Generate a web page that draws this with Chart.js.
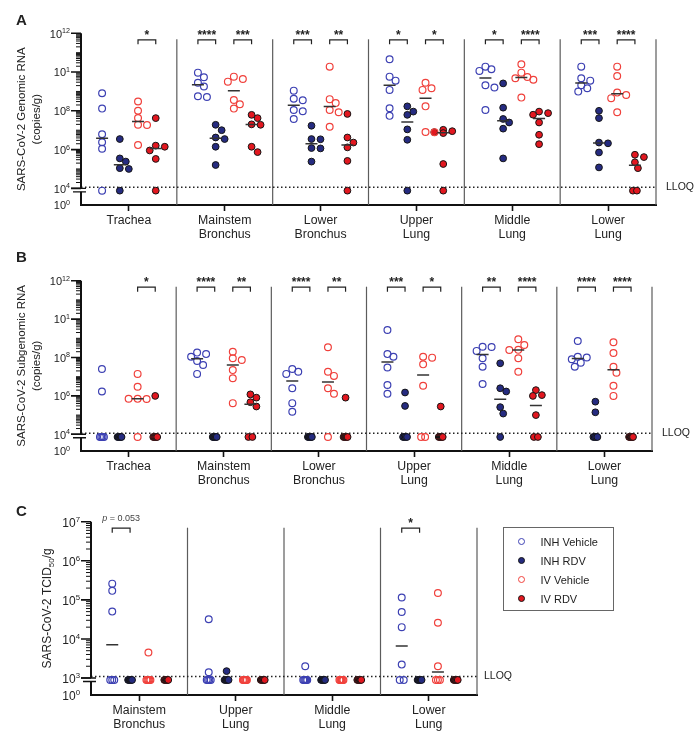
<!DOCTYPE html>
<html>
<head>
<meta charset="utf-8">
<title>SARS-CoV-2 RNA and infectious virus by tissue</title>
<script src="https://cdn.jsdelivr.net/npm/chart.js@4.4.1/dist/chart.umd.min.js"></script>
<style>
  body { margin: 0; background: #fff; font-family: 'Liberation Sans', Arial, sans-serif; color: #222; }
  #page { position: relative; width: 700px; height: 740px; overflow: hidden; }
  canvas { position: absolute; left: 0; }
  .tag { position: absolute; left: 16px; font-weight: bold; font-size: 15px; line-height: 15px; }
  #legend { position: absolute; left: 503px; top: 527px; width: 109px; height: 82px; border: 1.5px solid #666; }
  .item { position: absolute; left: 0; width: 100%; height: 14px; font-size: 11px; line-height: 14px; }
  .dot { position: absolute; left: 14px; top: 3.5px; width: 5px; height: 5px; border-radius: 50%; }
  .lbl { position: absolute; left: 36.5px; top: 0; white-space: nowrap; }
</style>
</head>
<body>
<div id="page">
  <canvas id="chart-a" width="700" height="245" style="top:0px"></canvas>
  <canvas id="chart-b" width="700" height="246" style="top:245px"></canvas>
  <canvas id="chart-c" width="700" height="244" style="top:491px"></canvas>
  <div class="tag" style="top:12px">A</div>
  <div class="tag" style="top:249px">B</div>
  <div class="tag" style="top:503px">C</div>
  <div id="legend"></div>
</div>
<script>
// ---- data (0 = below LLOQ) ----
const seriesNames = ['INH Vehicle', 'INH RDV', 'IV Vehicle', 'IV RDV'];

const tissuesAB = [['Trachea'], ['Mainstem', 'Bronchus'], ['Lower', 'Bronchus'], ['Upper', 'Lung'], ['Middle', 'Lung'], ['Lower', 'Lung']];
const tissuesC = [['Mainstem', 'Bronchus'], ['Upper', 'Lung'], ['Middle', 'Lung'], ['Lower', 'Lung']];

// A: genomic RNA, copies/g
const genomicInhVehicle = [
    [8.1e8, 1.3e8, 6.2e6, 2.4e6, 1.1e6, 0],
    [9.3e9, 5.4e9, 2.8e9, 1.8e9, 5.6e8, 5.2e8],
    [1.1e9, 4.2e8, 3.5e8, 1.1e8, 9.5e7, 3.8e7],
    [4.6e10, 5.8e9, 3.6e9, 1.2e9, 1.35e8, 5.5e7],
    [1.9e10, 1.4e10, 1.15e10, 2.1e9, 1.6e9, 1.1e8],
    [1.9e10, 4.8e9, 3.6e9, 2.1e9, 1.45e9, 9.8e8]
];
const genomicInhRdv = [
    [3.5e6, 3.5e5, 2.4e5, 1.1e5, 1.0e5, 0],
    [1.9e7, 1.0e7, 4.2e6, 3.5e6, 1.4e6, 1.6e5],
    [1.7e7, 3.5e6, 3.4e6, 1.2e6, 1.15e6, 2.4e5],
    [1.7e8, 9.1e7, 6.2e7, 1.1e7, 3.2e6, 0],
    [2.6e9, 1.45e8, 3.8e7, 2.5e7, 1.2e7, 3.5e5],
    [1.0e8, 4.2e7, 2.3e6, 2.1e6, 7.1e5, 1.2e5]
];
const genomicIvVehicle = [
    [3.0e8, 1.0e8, 4.2e7, 1.9e7, 1.85e7, 1.7e6],
    [5.8e9, 4.4e9, 3.2e9, 3.6e8, 2.2e8, 1.3e8],
    [1.9e10, 4.0e8, 2.5e8, 1.1e8, 8.5e7, 1.5e7],
    [2.8e9, 1.45e9, 1.2e9, 1.7e8, 8.0e6, 7.9e6],
    [2.5e10, 9.3e9, 5.6e9, 4.8e9, 4.0e9, 4.8e8],
    [1.9e10, 6.3e9, 8.7e8, 6.6e8, 4.5e8, 8.5e7]
];
const genomicIvRdv = [
    [4.2e7, 1.6e6, 1.4e6, 9.0e5, 3.3e5, 0],
    [6.2e7, 4.2e7, 2.0e7, 1.9e7, 1.4e6, 7.4e5],
    [6.9e7, 4.2e6, 2.3e6, 1.3e6, 2.6e5, 0],
    [1.05e7, 8.9e6, 7.9e6, 7.1e6, 1.8e5, 0],
    [9.1e7, 7.6e7, 6.3e7, 2.5e7, 5.8e6, 1.9e6],
    [5.4e5, 4.1e5, 2.2e5, 1.1e5, 0, 0]
];
const genomicSig = [['', '*'], ['****', '***'], ['***', '**'], ['*', '*'], ['*', '****'], ['***', '****']];

// B: subgenomic RNA, copies/g
const subgenomicInhVehicle = [
    [2.5e7, 1.7e6, 0, 0, 0, 0],
    [1.8e8, 1.5e8, 1.1e8, 6.6e7, 4.1e7, 1.4e7],
    [2.5e7, 1.8e7, 1.4e7, 2.5e6, 4.2e5, 1.5e5],
    [2.7e9, 1.5e8, 1.1e8, 3.0e7, 3.7e6, 1.3e6],
    [3.6e8, 3.5e8, 2.2e8, 9.1e7, 3.3e7, 4.2e6],
    [7.2e8, 1.1e8, 1.0e8, 8.1e7, 5.4e7, 3.3e7]
];
const subgenomicInhRdv = [
    [0, 0, 0, 0, 0, 0],
    [0, 0, 0, 0, 0, 0],
    [0, 0, 0, 0, 0, 0],
    [1.5e6, 3.0e5, 0, 0, 0, 0],
    [5.0e7, 2.5e6, 1.7e6, 2.6e5, 1.2e5, 0],
    [5.0e5, 1.4e5, 0, 0, 0, 0]
];
const subgenomicIvVehicle = [
    [1.4e7, 3.0e6, 7.0e5, 6.9e5, 7.1e5, 0],
    [2.0e8, 9.1e7, 7.4e7, 2.2e7, 8.3e6, 4.2e5],
    [3.4e8, 1.8e7, 1.1e7, 2.5e6, 1.3e6, 0],
    [1.1e8, 9.8e7, 4.4e7, 3.4e6, 0, 0],
    [8.9e8, 4.5e8, 2.5e8, 2.45e8, 9.1e7, 1.8e7],
    [6.2e8, 1.7e8, 3.3e7, 1.6e7, 3.4e6, 1.0e6]
];
const subgenomicIvRdv = [
    [1.0e6, 0, 0, 0, 0, 0],
    [1.2e6, 8.1e5, 4.7e5, 2.8e5, 0, 0],
    [8.1e5, 0, 0, 0, 0, 0],
    [2.8e5, 0, 0, 0, 0, 0],
    [2.0e6, 1.1e6, 1.0e6, 1.0e5, 0, 0],
    [0, 0, 0, 0, 0, 0]
];
const subgenomicSig = [['', '*'], ['****', '**'], ['****', '**'], ['***', '*'], ['**', '****'], ['****', '****']];

// C: TCID50/g
const tcidInhVehicle = [
    [2.6e5, 1.7e5, 5.0e4, 0, 0, 0],
    [3.2e4, 1.4e3, 0, 0, 0, 0],
    [2.0e3, 0, 0, 0, 0, 0],
    [1.15e5, 4.9e4, 2.0e4, 2.2e3, 0, 0]
];
const tcidInhRdv = [
    [0, 0, 0, 0, 0, 0],
    [1.5e3, 0, 0, 0, 0, 0],
    [0, 0, 0, 0, 0, 0],
    [0, 0, 0, 0, 0, 0]
];
const tcidIvVehicle = [
    [4.5e3, 0, 0, 0, 0, 0],
    [0, 0, 0, 0, 0, 0],
    [0, 0, 0, 0, 0, 0],
    [1.5e5, 2.6e4, 2.0e3, 0, 0, 0]
];
const tcidIvRdv = [
    [0, 0, 0, 0, 0, 0],
    [0, 0, 0, 0, 0, 0],
    [0, 0, 0, 0, 0, 0],
    [0, 0, 0, 0, 0, 0]
];
const tcidSig = [['p = 0.053', ''], ['', ''], ['', ''], ['*', '']];

// y tick labels: exponent of the tick, and the superscript shown
const rnaTickExp = [12, 10, 8, 6, 4];
const rnaTickSup = ['12', '1', '8', '6', '4'];
const tcidTickExp = [7, 6, 5, 4, 3];
const tcidTickSup = ['7', '6', '5', '4', '3'];

// ---- styles ----
Chart.defaults.font.family = "'Liberation Sans', Arial, sans-serif";
Chart.defaults.color = '#222';

const seriesStyle = [
    { fill: 'rgba(0,0,0,0)', stroke: '#3d41b3', width: 1.2 },
    { fill: '#252b80', stroke: '#151515', width: 1 },
    { fill: 'rgba(0,0,0,0)', stroke: '#f0413c', width: 1.2 },
    { fill: '#e2171f', stroke: '#151515', width: 1 }
];
const columnOffset = [-0.28, -0.095, 0.095, 0.28];

// geometric median, values below LLOQ counted at LLOQ
function median(vals, lloq) {
    const l = vals.map(v => Math.log10(v === 0 ? lloq : v)).sort((a, b) => a - b);
    const h = Math.floor(l.length / 2);
    const m = l.length % 2 ? l[h] : (l[h - 1] + l[h]) / 2;
    return Math.pow(10, m);
}

// small beeswarm so dots with close values sit side by side
function spread(vals, pxDec, pxUnit) {
    const placed = [];
    const nBlq = vals.filter(v => v === 0).length;
    let k = 0;
    return vals.map(v => {
        if (v === 0) {
            const off = nBlq > 1 ? -2 + 4 * k / (nBlq - 1) : 0;
            k++;
            return off / pxUnit;
        }
        const yy = Math.log10(v) * pxDec;
        const cands = [0, 3, -3, 6, -6, 9, -9, 12, -12];
        let dx = cands.find(c => placed.every(p => Math.hypot(p.x - c, p.y - yy) >= 6.5));
        if (dx === undefined) dx = 0;
        placed.push({ x: dx, y: yy });
        return dx / pxUnit;
    });
}

function buildDatasets(p) {
    const sets = [];
    p.values.forEach((groups, si) => {
        const st = seriesStyle[si];
        const pts = [];
        const meds = [];
        groups.forEach((vals, g) => {
            const jit = spread(vals, p.pxDec, p.pxUnit);
            vals.forEach((v, j) => pts.push({ x: g + columnOffset[si] + jit[j], y: v === 0 ? p.blqPlot : v }));
            const m = median(vals, p.lloq);
            if (m > p.lloq * 1.01) meds.push({ x: g + columnOffset[si], y: m });
        });
        sets.push({
            label: seriesNames[si], data: pts, order: 2,
            pointRadius: 3.4, backgroundColor: st.fill, borderColor: st.stroke, borderWidth: st.width
        });
        sets.push({
            label: seriesNames[si] + ' median', data: meds, order: 1,
            pointStyle: 'line', pointRadius: 6, borderColor: '#333', borderWidth: 1.5
        });
    });
    sets.push({
        label: 'LLOQ', data: [{ x: -0.5, y: p.lloqLine }, { x: p.groups.length - 0.5, y: p.lloqLine }],
        showLine: true, pointRadius: 0, borderColor: '#222', borderWidth: 1.5, borderDash: [1.5, 2.5], order: 3
    });
    return sets;
}

function drawPow(ctx, x, y, sup, size) {
    // right-aligned "10^sup" ending at x, centred on y
    ctx.font = `${size * 0.65}px 'Liberation Sans', Arial, sans-serif`;
    const sw = ctx.measureText(sup).width;
    ctx.textAlign = 'right';
    ctx.textBaseline = 'alphabetic';
    ctx.fillText(sup, x, y);
    ctx.font = `${size}px 'Liberation Sans', Arial, sans-serif`;
    ctx.fillText('10', x - sw, y + size * 0.4);
}

function panelDecor(p) {
    return {
        id: 'panelDecor',
        beforeDatasetsDraw(chart) {
            const { ctx, chartArea: a, scales: { x } } = chart;
            ctx.save();
            ctx.strokeStyle = '#5c5c5c';
            ctx.lineWidth = 1.2;
            for (let g = 0; g < p.groups.length; g++) {
                const px = x.getPixelForValue(g + 0.5);
                ctx.beginPath();
                ctx.moveTo(px, a.top + 6);
                ctx.lineTo(px, a.bottom);
                ctx.stroke();
            }
            ctx.restore();
        },
        afterDraw(chart) {
            const { ctx, chartArea: a, scales: { x, y } } = chart;
            const ax = a.left;
            const yb = y.getPixelForValue(p.lloq);
            ctx.save();
            ctx.fillStyle = '#222';
            ctx.strokeStyle = '#111';

            // y axis with a break just under the LLOQ decade
            ctx.lineWidth = 2;
            ctx.beginPath();
            ctx.moveTo(ax, a.top); ctx.lineTo(ax, yb);
            ctx.moveTo(ax, yb + 3.5); ctx.lineTo(ax, a.bottom + 1);
            ctx.stroke();
            ctx.lineWidth = 1.4;
            ctx.beginPath();
            ctx.moveTo(ax - 10, yb); ctx.lineTo(ax + 5, yb);
            ctx.moveTo(ax - 8, yb + 3.5); ctx.lineTo(ax + 5, yb + 3.5);
            ctx.stroke();

            // minor ticks
            const lo = p.tickExp[p.tickExp.length - 1];
            const hi = p.tickExp[0];
            ctx.lineWidth = 1;
            ctx.beginPath();
            for (let d = lo; d < hi; d++) {
                for (let m = 1; m <= 9; m++) {
                    if (m === 1 && (d === lo || p.tickExp.includes(d))) continue;
                    const py = y.getPixelForValue(m * Math.pow(10, d));
                    ctx.moveTo(ax - 5, py); ctx.lineTo(ax, py);
                }
            }
            ctx.stroke();
            // major ticks + labels
            ctx.lineWidth = 1.6;
            ctx.beginPath();
            p.tickExp.forEach(e => {
                const py = y.getPixelForValue(Math.pow(10, e));
                ctx.moveTo(ax - 10, py); ctx.lineTo(ax, py);
            });
            ctx.stroke();
            p.tickExp.forEach((e, i) => drawPow(ctx, ax - 11, y.getPixelForValue(Math.pow(10, e)), p.tickSup[i], p.tickSize));
            drawPow(ctx, ax - 11, a.bottom, '0', p.tickSize);

            // significance brackets
            ctx.strokeStyle = '#222';
            ctx.lineWidth = 1.2;
            const top = a.top + 6.5;
            p.sig.forEach((pair, g) => {
                pair.forEach((lab, k) => {
                    if (!lab) return;
                    const x1 = x.getPixelForValue(g + columnOffset[2 * k]);
                    const x2 = x.getPixelForValue(g + columnOffset[2 * k + 1]);
                    ctx.beginPath();
                    ctx.moveTo(x1, top + 4.5); ctx.lineTo(x1, top); ctx.lineTo(x2, top); ctx.lineTo(x2, top + 4.5);
                    ctx.stroke();
                    const cx = (x1 + x2) / 2;
                    ctx.textBaseline = 'alphabetic';
                    if (lab.startsWith('p')) {
                        ctx.fillStyle = '#444';
                        const rest = lab.slice(1);
                        ctx.font = "9px 'Liberation Sans', Arial, sans-serif";
                        const rw = ctx.measureText(rest).width;
                        ctx.font = "italic 9px 'Liberation Sans', Arial, sans-serif";
                        const pw = ctx.measureText('p').width;
                        const sx = cx - (rw + pw) / 2;
                        ctx.textAlign = 'left';
                        ctx.fillText('p', sx, top - 7);
                        ctx.font = "9px 'Liberation Sans', Arial, sans-serif";
                        ctx.fillText(rest, sx + pw, top - 7);
                        ctx.fillStyle = '#222';
                    } else {
                        ctx.font = "bold 12px 'Liberation Sans', Arial, sans-serif";
                        ctx.textAlign = 'center';
                        ctx.fillText(lab, cx, top - 1);
                    }
                });
            });

            // LLOQ label
            ctx.font = "10.5px 'Liberation Sans', Arial, sans-serif";
            ctx.textAlign = 'left';
            ctx.textBaseline = 'middle';
            ctx.fillText('LLOQ', a.right + p.lloqGap, y.getPixelForValue(p.lloqLine));

            // y title with subscript (panel C)
            if (p.subTitle) {
                const cy = (a.top + a.bottom) / 2;
                ctx.translate(48, cy);
                ctx.rotate(-Math.PI / 2);
                const big = "12px 'Liberation Sans', Arial, sans-serif";
                const small = "8px 'Liberation Sans', Arial, sans-serif";
                const parts = p.subTitle;
                ctx.font = big; const w0 = ctx.measureText(parts[0]).width;
                ctx.font = small; const w1 = ctx.measureText(parts[1]).width;
                ctx.font = big; const w2 = ctx.measureText(parts[2]).width;
                let sx = -(w0 + w1 + w2) / 2;
                ctx.textAlign = 'left';
                ctx.textBaseline = 'middle';
                ctx.fillText(parts[0], sx, 0);
                ctx.font = small; ctx.fillText(parts[1], sx + w0, 3.5);
                ctx.font = big; ctx.fillText(parts[2], sx + w0 + w1, 0);
            }
            ctx.restore();
        }
    };
}

function renderPanel(canvasId, p) {
    const ctx = document.getElementById(canvasId);
    return new Chart(ctx, {
        type: 'scatter',
        data: { datasets: buildDatasets(p) },
        plugins: [panelDecor(p)],
        options: {
            responsive: false,
            animation: false,
            events: [],
            layout: { padding: { top: p.padTop, right: p.padRight, left: 0, bottom: 0 } },
            plugins: { legend: { display: false }, tooltip: { enabled: false } },
            scales: {
                x: {
                    type: 'linear',
                    min: -0.5,
                    max: p.groups.length - 0.5,
                    afterBuildTicks: scale => { scale.ticks = p.groups.map((_, i) => ({ value: i })); },
                    afterFit: scale => { scale.height = 40; },
                    grid: { drawOnChartArea: false, drawTicks: true, tickLength: 6, tickWidth: 1.6, tickColor: '#111' },
                    border: { color: '#111', width: 2 },
                    ticks: {
                        autoSkip: false, maxRotation: 0, padding: 3,
                        font: { size: 12.3, lineHeight: 1.1 }, color: '#222',
                        callback: v => p.groups[v]
                    }
                },
                y: {
                    type: 'logarithmic',
                    min: p.yMin,
                    max: p.yMax,
                    afterFit: scale => { scale.width = p.axisWidth; },
                    grid: { display: false },
                    border: { display: false },
                    ticks: { display: false },
                    title: {
                        display: !!p.title,
                        text: p.title || '',
                        color: '#222',
                        font: { size: 11.5, lineHeight: 1.3 },
                        padding: { top: 14, bottom: 0 }
                    }
                }
            }
        }
    });
}

renderPanel('chart-a', {
    groups: tissuesAB,
    values: [genomicInhVehicle, genomicInhRdv, genomicIvVehicle, genomicIvRdv],
    sig: genomicSig,
    tickExp: rnaTickExp, tickSup: rnaTickSup, tickSize: 11,
    title: ['SARS-CoV-2 Genomic RNA', '(copies/g)'],
    yMin: Math.pow(10, 3.14), yMax: 1e12,
    lloq: 1e4, lloqLine: Math.pow(10, 4.06), blqPlot: Math.pow(10, 3.88),
    pxDec: 19.4, pxUnit: 95.8,
    padTop: 33.3, padRight: 44, axisWidth: 81, lloqGap: 10
});

renderPanel('chart-b', {
    groups: tissuesAB,
    values: [subgenomicInhVehicle, subgenomicInhRdv, subgenomicIvVehicle, subgenomicIvRdv],
    sig: subgenomicSig,
    tickExp: rnaTickExp, tickSup: rnaTickSup, tickSize: 11,
    title: ['SARS-CoV-2 Subgenomic RNA', '(copies/g)'],
    yMin: Math.pow(10, 3.13), yMax: 1e12,
    lloq: 1e4, lloqLine: Math.pow(10, 4.05), blqPlot: Math.pow(10, 3.86),
    pxDec: 19.2, pxUnit: 95.2,
    padTop: 35.7, padRight: 48, axisWidth: 81, lloqGap: 10
});

renderPanel('chart-c', {
    groups: tissuesC,
    values: [tcidInhVehicle, tcidInhRdv, tcidIvVehicle, tcidIvRdv],
    sig: tcidSig,
    tickExp: tcidTickExp, tickSup: tcidTickSup, tickSize: 12,
    subTitle: ['SARS-CoV-2 TCID', '50', '/g'],
    yMin: Math.pow(10, 2.565), yMax: 1e7,
    lloq: 1e3, lloqLine: Math.pow(10, 3.04), blqPlot: Math.pow(10, 2.95),
    pxDec: 39.1, pxUnit: 96.5,
    padTop: 30.7, padRight: 223, axisWidth: 91, lloqGap: 7
});

// legend box for panel C
const legend = document.getElementById('legend');
seriesNames.forEach((name, i) => {
    const st = seriesStyle[i];
    const item = document.createElement('div');
    item.className = 'item';
    item.style.top = (6.5 + i * 19) + 'px';
    const dot = document.createElement('span');
    dot.className = 'dot';
    dot.style.background = st.fill;
    dot.style.border = `${st.width}px solid ${st.stroke}`;
    const lbl = document.createElement('span');
    lbl.className = 'lbl';
    lbl.textContent = name;
    item.appendChild(dot);
    item.appendChild(lbl);
    legend.appendChild(item);
});
</script>
</body>
</html>
